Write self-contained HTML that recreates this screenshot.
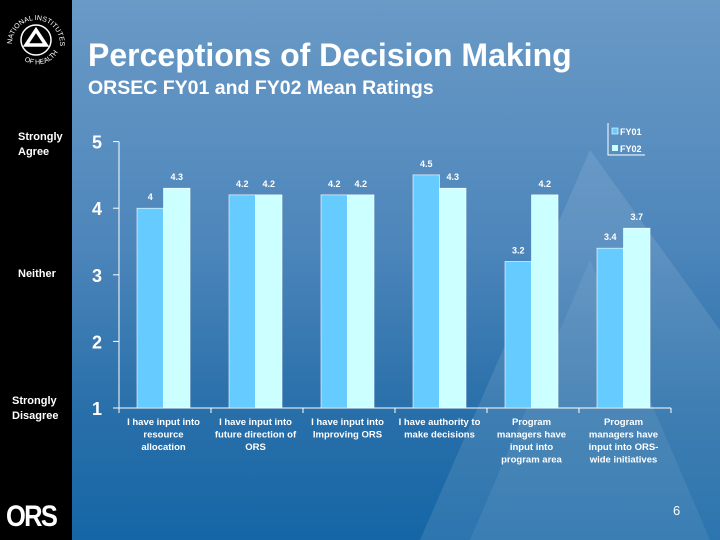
<!DOCTYPE html>
<html><head><meta charset="utf-8"><style>
html,body{margin:0;padding:0;width:720px;height:540px;overflow:hidden;font-family:"Liberation Sans",Arial,sans-serif}
#bg{position:absolute;left:0;top:0;width:720px;height:540px;background:linear-gradient(180deg,#6a9ac6 0%,#4d86bb 45%,#2a70aa 75%,#1566a6 100%)}
#side{position:absolute;left:0;top:0;width:72px;height:540px;background:#000}
</style></head><body>
<div id="bg"></div>
<svg width="720" height="540" style="position:absolute;left:0;top:0">
<polygon points="420,540 590,150 720,330 720,540" fill="#ffffff" opacity="0.10"/>
<polygon points="470,540 590,260 710,540" fill="#ffffff" opacity="0.07"/>
</svg>
<div id="side"></div>
<svg width="72" height="80" style="position:absolute;left:0;top:0">
<defs><path id="arc" d="M12,44 A24,24 0 1,1 60,44"/><path id="arc2" d="M16,52 A24,24 0 0,0 58,52"/></defs>
<circle cx="36" cy="40" r="15" fill="none" stroke="#fff" stroke-width="1.5"/>
<polygon points="36,30 46,45 26,45" fill="none" stroke="#fff" stroke-width="3.5"/>
<text fill="#fff" font-size="7"><textPath href="#arc">NATIONAL INSTITUTES</textPath></text>
<text fill="#fff" font-size="7"><textPath href="#arc2" startOffset="12">OF HEALTH</textPath></text>
</svg>
<div style="position:absolute;left:6px;top:500px;color:#fff;font-weight:bold;font-size:30px;letter-spacing:-2px;transform:scaleX(0.85);transform-origin:left">ORS</div>
<div style="position:absolute;left:88px;top:37px;color:#fff;font-weight:bold;font-size:32px">Perceptions of Decision Making</div>
<div style="position:absolute;left:88px;top:77px;color:#fff;font-weight:bold;font-size:19.5px">ORSEC FY01 and FY02 Mean Ratings</div>
<div style="position:absolute;left:18px;top:130px;color:#fff;font-weight:bold;font-size:11px;line-height:15px">Strongly<br>Agree</div>
<div style="position:absolute;left:18px;top:268px;color:#fff;font-weight:bold;font-size:11px">Neither</div>
<div style="position:absolute;left:12px;top:394px;color:#fff;font-weight:bold;font-size:11px;line-height:15px">Strongly<br>Disagree</div>
<div style="position:absolute;left:673px;top:503px;color:#fff;font-size:13px">6</div>
<svg id="chart" width="720" height="540" style="position:absolute;left:0;top:0"></svg>
<script>
const categories=[["I have input into","resource","allocation"],["I have input into","future direction of","ORS"],["I have input into","Improving ORS"],["I have authority to","make decisions"],["Program","managers have","input into","program area"],["Program","managers have","input into ORS-","wide initiatives"]];
const fy01=[4,4.2,4.2,4.5,3.2,3.4];
const fy02=[4.3,4.2,4.2,4.3,4.2,3.7];
const yTicks=[1,2,3,4,5];
const NS="http://www.w3.org/2000/svg";
const svg=document.getElementById('chart');
const x0=119,band=92,barW=26.5;
function y(v){return 408-(v-1)*66.6;}
function xb(i){return x0+i*band;}
function mk(t,a,p){const e=document.createElementNS(NS,t);for(const k in a)e.setAttribute(k,a[k]);(p||svg).appendChild(e);return e;}
const ax=mk('line',{x1:x0,y1:y(5),x2:x0,y2:y(1),stroke:'#fff','stroke-width':1});


const xa=mk('line',{x1:x0,y1:y(1),x2:x0+band*6,y2:y(1),stroke:'#fff','stroke-width':1});


yTicks.forEach(t=>{
  mk('line',{x1:x0-6,y1:y(t),x2:x0,y2:y(t),stroke:'#fff'});
  const tx=mk('text',{x:x0-17,y:y(t)+7,fill:'#fff','font-size':18,'font-weight':'bold','text-anchor':'end'});
  tx.textContent=t;
  
  
});
for(let i=0;i<=6;i++)mk('line',{x1:xb(i),y1:y(1),x2:xb(i),y2:y(1)+5,stroke:'#fff'});
categories.forEach((c,i)=>{
  const cx=xb(i)+44.5;
  [[fy01[i],'#66ccff',cx-barW,'fy01'],[fy02[i],'#ccffff',cx,'fy02']].forEach(([v,col,bx,s])=>{
    const r=mk('rect',{x:bx,y:y(v),width:barW,height:y(1)-y(v),fill:col,stroke:'#fff','stroke-width':0.6});
    
    
    const l=mk('text',{x:bx+barW/2,y:y(v)-8,fill:'#fff','font-size':9,'font-weight':'bold','text-anchor':'middle'});
    l.textContent=v;
    
    
  });
  const g=mk('text',{fill:'#fff','font-size':9.5,'font-weight':'bold','text-anchor':'middle'});
  
  
  c.forEach((ln,j)=>{const ts=mk('tspan',{x:cx,y:425+j*12.5},g);ts.textContent=ln;});
});
const lg=mk('g',{});


mk('polyline',{points:'608,123 608,155 645,155',fill:'none',stroke:'#fff'},lg);
mk('rect',{x:612,y:128,width:6,height:6,fill:'#66ccff',stroke:'#fff','stroke-width':0.6},lg);
mk('rect',{x:612,y:145,width:6,height:6,fill:'#ccffff'},lg);
const l1=mk('text',{x:620,y:135,fill:'#fff','font-size':9,'font-weight':'bold'},lg);l1.textContent='FY01';
const l2=mk('text',{x:620,y:152,fill:'#fff','font-size':9,'font-weight':'bold'},lg);l2.textContent='FY02';
</script>
</body></html>
